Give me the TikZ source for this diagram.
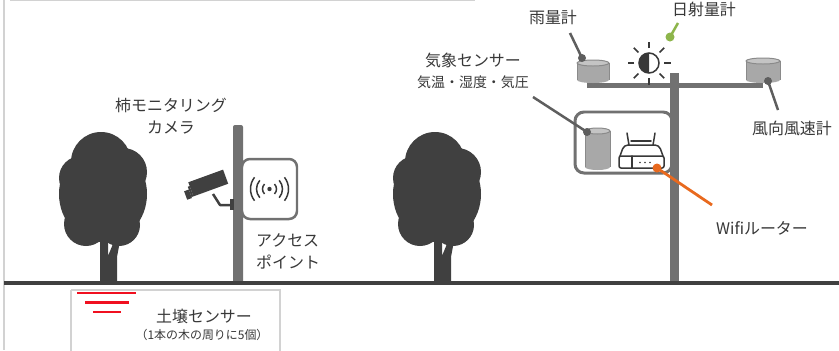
\documentclass[tikz,border=0pt]{standalone}
\usepackage{fontspec}
\newfontfamily\jp{Noto Sans CJK JP}
\definecolor{treecol}{HTML}{404040}
\definecolor{polecol}{HTML}{717171}
\definecolor{cupfill}{HTML}{A8A8A8}
\definecolor{cuptop}{HTML}{C4C4C4}
\definecolor{cupedge}{HTML}{8A8A8A}
\definecolor{txt}{HTML}{383838}
\definecolor{leadgrey}{HTML}{5E5E5E}
\definecolor{sungreen}{HTML}{8DB54B}
\definecolor{wifiorange}{HTML}{E8691E}
\definecolor{frame}{HTML}{D2D2D2}
\definecolor{soilred}{HTML}{F01020}
% cylinder-shaped sensor: left x, top y, width, height
\newcommand\gaugecup[4]{%
  \fill[cupfill] (#1+#3/2,#2+#4-3) ellipse[x radius=#3/2, y radius=3];
  \fill[cupfill] (#1,#2+3) rectangle (#1+#3,#2+#4-3);
  \draw[cupedge, line width=1] (#1,#2+3) -- (#1,#2+#4-3);
  \draw[cupedge, line width=1] (#1+#3,#2+3) -- (#1+#3,#2+#4-3);
  \filldraw[fill=cuptop, draw=cupedge, line width=1] (#1+#3/2,#2+3) ellipse[x radius=#3/2, y radius=3];
}
% tree silhouette, canopy centred on x = 0 of the current frame
\newcommand\treeshape{%
  \fill[treecol] (0,194) ellipse[x radius=44, y radius=48];
  \fill[treecol] (-2,162) circle[radius=30];
  \fill[treecol] (20,172) circle[radius=24];
  \fill[treecol] (-22,178) circle[radius=22];
  \fill[treecol] (-17,224) circle[radius=22];
  \fill[treecol] (16,225) circle[radius=21];
  \fill[treecol] (-3,284) -- (-3,240) -- (5,240) -- (5,256) -- (12,239)
     -- (17,241) -- (14,257) -- (14,284) -- cycle;
}
\tikzset{
  lbl/.style={font=\jp\fontsize{16}{22}\selectfont, text=txt, inner sep=0pt},
  sublbl/.style={font=\jp\fontsize{14}{16}\selectfont, text=txt, inner sep=0pt},
  smalllbl/.style={font=\jp\fontsize{12}{14}\selectfont, text=txt, inner sep=0pt},
  leader/.style={draw=leadgrey, line width=2.5},
  icon/.style={draw=txt, line width=1.5, line cap=round, line join=round},
}
\begin{document}
\begin{tikzpicture}[x=1bp,y=-1bp]
\useasboundingbox (0,0) rectangle (839,350);
\fill[white] (0,0) rectangle (839,350);

% frame lines
\draw[frame, line width=1.2] (10,0.8) -- (475,0.8);
\draw[frame, line width=2] (4,0) -- (4,350);

% trees
\begin{scope}[shift={(103,0)}]\treeshape\end{scope}
\begin{scope}[shift={(437,0)}]\treeshape\end{scope}

% camera pole and access point
\fill[polecol, rounded corners=2] (233,125) rectangle (243,284);
\node[draw=polecol, line width=2.5, fill=white, rounded corners=8,
      minimum width=55bp, minimum height=60bp, inner sep=0pt] (ap) at (269.5,189) {};
\fill[txt] (ap.center) circle[radius=2.2];
\foreach \r/\s in {7/45,13/42,19/38}{
  \draw[txt, line width=1.5] (ap.center) ++(-\s:\r) arc[start angle=-\s, end angle=\s, radius=\r];
  \draw[txt, line width=1.5] (ap.center) ++(180-\s:\r) arc[start angle=180-\s, end angle=180+\s, radius=\r];
}

% camera
\coordinate (mount) at (233,205);
\draw[treecol, line width=2.5, line join=round] (213,194) -- (220,205) -- (mount);
\fill[treecol] (230,199) rectangle (234,210);
\begin{scope}[shift={(207,184)}, rotate=20]
  \fill[treecol] (-17,-8) rectangle (20,7);
  \fill[treecol] (-24,-1) rectangle (-19,8);
  \fill[treecol] (-19,-4) rectangle (-17,7);
\end{scope}

\node[lbl, align=center] (camlbl) at (171,116) {柿モニタリング\\カメラ};
\node[lbl, align=left, anchor=west] (aplbl) at (256,251) {アクセス\\ポイント};

% weather station pole
\draw[draw=polecol, line width=3, rounded corners=9] (575,112) rectangle (672,173);
\fill[polecol] (587,83) rectangle (763,87.5);
\fill[polecol] (670,73) rectangle (679,284);
\gaugecup{577}{60}{32}{23}
\gaugecup{746}{58}{34}{25}
\gaugecup{585}{128}{25}{42}

% router
\draw[icon, rounded corners=2] (619,156) rectangle (664,168);
\draw[icon] (632,156) -- (632,168);
\foreach \dx in {0,5,10}{\fill[txt] (640+\dx,162.5) circle[radius=0.9];}
\draw[icon, rounded corners=4] (620,156) -- (624,145) -- (659,145) -- (663,156);
\draw[icon] (629,145) -- (627,133);
\draw[icon] (653,145) -- (655,133);
\draw[icon] (631,141) -- (651,141);

% pyranometer sun icon
\coordinate (sun) at (649,63);
\begin{scope}
  \clip (630,40) rectangle (649,90);
  \fill[txt] (sun) circle[radius=10];
\end{scope}
\draw[txt, line width=1.5] (sun) circle[radius=10];
\foreach \a in {0,45,...,315}{
  \draw[txt, line width=1.6] (sun) ++(\a:15) -- ++(\a:6.5);
}

% labels and leaders
\node[lbl] (rainlbl) at (553,17) {雨量計};
\coordinate (rainA) at (570,33);
\coordinate (rainB) at (582,58);
\draw[leader] (rainA) -- (rainB);
\fill[leadgrey] (rainB) circle[radius=4];

\node[lbl] (sunlbl) at (704,9) {日射量計};
\coordinate (sunA) at (678,23);
\coordinate (sunB) at (670,37);
\draw[draw=sungreen, line width=2.5] (sunA) -- (sunB);
\fill[sungreen] (sunB) circle[radius=4.5];

\node[lbl] (wxlbl) at (473,60) {気象センサー};
\node[sublbl] (wxsub) at (473,82) {気温・湿度・気圧};
\coordinate (wxA) at (533,97);
\coordinate (wxB) at (587,132);
\draw[leader] (wxA) -- (wxB);
\fill[leadgrey] (wxB) circle[radius=4];

\node[lbl] (windlbl) at (792,128) {風向風速計};
\coordinate (windA) at (768,81);
\coordinate (windB) at (778,110);
\draw[leader] (windA) -- (windB);
\fill[leadgrey] (windA) circle[radius=4];

\node[lbl] (wifilbl) at (762,228) {Wifiルーター};
\coordinate (wifiA) at (657,168);
\coordinate (wifiB) at (712,205);
\draw[draw=wifiorange, line width=2.8] (wifiA) -- (wifiB);
\fill[wifiorange] (wifiA) circle[radius=4.5];

% ground
\draw[treecol, line width=4] (4,283) -- (839,283);

% soil sensors
\draw[frame, line width=1.5] (71,290) -- (71,352) (71,290) -- (280,290) -- (280,352);
\draw[soilred, line width=2.6] (77,293) -- (136,293);
\draw[soilred, line width=2.6] (85,302.5) -- (129,302.5);
\draw[soilred, line width=2.6] (93,312) -- (121,312);
\node[lbl] (soillbl) at (204,316) {土壌センサー};
\node[smalllbl] (soilsub) at (202,335) {（1本の木の周りに5個）};
\end{tikzpicture}
\end{document}
